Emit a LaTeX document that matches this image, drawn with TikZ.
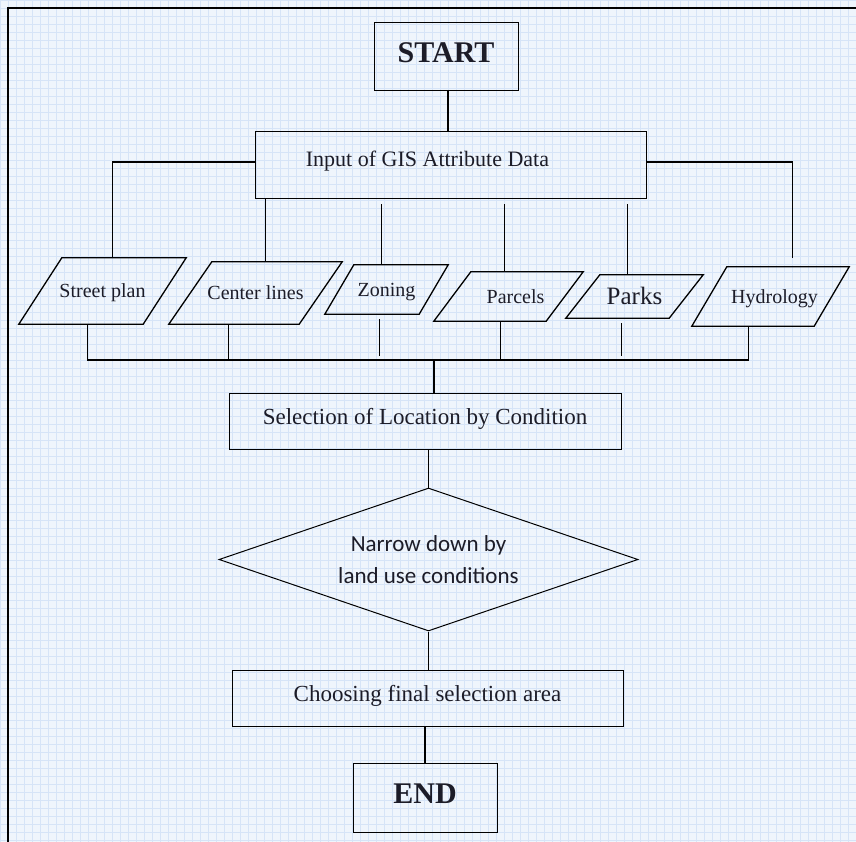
\documentclass[tikz,border=0pt]{standalone}
\usepackage{fontspec}
\setmainfont{Liberation Serif}
\newfontfamily\calibrifont{Carlito}
\usepackage{xcolor}
\usetikzlibrary{shapes.geometric,calc}
\definecolor{paper}{RGB}{239,245,252}
\definecolor{gridblue}{RGB}{214,228,247}
\definecolor{ink}{RGB}{28,28,40}
\tikzset{
    procbox/.style={rectangle,draw,line width=1pt,inner sep=0pt,text=ink,align=center,
        text height=15pt,text depth=8pt,font=\fontsize{23}{27}\selectfont},
    termbox/.style={procbox,text height=20pt,text depth=9pt,
        font=\bfseries\fontsize{30}{34}\selectfont},
    datain/.style={rectangle,inner sep=0pt,text=ink,text height=13pt,text depth=0pt,
        font=\fontsize{20}{24}\selectfont},
    pgram/.style={line width=1.3pt},
    decide/.style={diamond,draw,line width=1pt,inner sep=0pt,aspect=2.9,text=ink,align=center,
        font=\calibrifont\fontsize{23}{32}\selectfont},
    link/.style={line width=1.4pt},
    gridline/.style={draw=gridblue,line width=0.9pt}
}

\begin{document}
\begin{tikzpicture}[x=1pt,y=-1pt]
  % paper background with fine grid
  \useasboundingbox (0,0) rectangle (856,842);
  \fill[paper] (0,0) rectangle (856,842);
  \foreach \i in {0,8,...,856}
    \draw[gridline] (\i,0) -- (\i,842);
  \foreach \j in {0,8,...,840}
    \draw[gridline] (0,\j) -- (856,\j);
  % frame (top and left only)
  \draw[line width=1.4pt] (8,842) -- (8,8) -- (856,8);
  % main column
  \node[termbox,minimum width=144pt,minimum height=68pt] (start) at (446,57) {START};
  \node[procbox,minimum width=391pt,minimum height=67pt,text depth=13pt,
    font=\fontsize{22}{26}\selectfont]
    (inp) at (450.5,165.5) {Input of GIS Attribute Data\kern46pt};
  % attribute layers
  \node[datain,minimum width=167pt,minimum height=66pt] (street) at (102.5,291) {Street plan};
  \node[datain,minimum width=173pt,minimum height=62pt] (cen) at (255.5,293) {Center lines};
  \node[datain,minimum width=123pt,minimum height=49pt] (zon) at (386.5,289.5) {Zoning};
  \node[datain,minimum width=149pt,minimum height=49pt] (par) at (508.5,296.5) {\kern14pt Parcels};
  \node[datain,minimum width=137pt,minimum height=43pt,text height=16pt,
    font=\fontsize{25}{29}\selectfont] (prk) at (634.5,296.5) {Parks};
  \node[datain,minimum width=157pt,minimum height=59pt] (hyd) at (770.5,296.5) {\kern8pt Hydrology};
  \foreach \n/\s in {street/43,cen/43,zon/29,par/37,prk/34,hyd/35}
    \draw[pgram] (\n.south west) -- ([xshift=-\s pt]\n.south east) -- (\n.north east)
      -- ([xshift=\s pt]\n.north west) -- cycle;
  \coordinate (bus) at (434,360);
  % selection steps
  \node[procbox,minimum width=392pt,minimum height=56pt] (sel) at (425,421)
    {Selection of Location by Condition};
  \node[decide,minimum width=419pt,minimum height=143pt] (dia) at (428.5,559.5)
    {Narrow down by\\land use conditions};
  \node[procbox,minimum width=391pt,minimum height=56pt] (cho) at (427.5,698)
    {Choosing final selection area};
  \node[termbox,minimum width=144pt,minimum height=69pt] (end) at (425,797.5) {END};
  % connectors: input to layers
  \draw[link] ([xshift=2pt]start.south) -- ([xshift=2pt]start.south |- inp.north);
  \draw[link] ([yshift=3.5pt]inp.west) -| ([xshift=10pt]street.north);
  \draw[link] ([yshift=3.5pt]inp.east) -| ([xshift=22pt,yshift=9pt]hyd.north);
  \draw[link] ([xshift=10pt]cen.north |- inp.south) -- ([xshift=10pt]cen.north);
  \foreach \n/\s in {zon/-5,par/-4,prk/-7}
    \draw[link] ([xshift=\s pt,yshift=-5pt]\n.north |- inp.south) -- ([xshift=\s pt]\n.north);
  % connectors: layers to bus
  \draw[link] ([xshift=-15pt]street.south) |- ([xshift=-22pt]hyd.south |- bus)
    -- ([xshift=-22pt]hyd.south);
  \foreach \n/\s in {cen/-27,par/-8}
    \draw[link] ([xshift=\s pt]\n.south) -- ([xshift=\s pt]\n.south |- bus);
  \foreach \n/\s in {zon/-7,prk/-13}
    \draw[link] ([xshift=\s pt,yshift=-5pt]\n.south) -- ([xshift=\s pt,yshift=4pt]\n.south |- bus);
  \draw[link] (bus) -- (bus |- sel.north);
  % connectors: lower column
  \draw[link] (dia.north |- sel.south) -- (dia.north);
  \draw[link] (dia.south) -- (dia.south |- cho.north);
  \draw[link] (end.north |- cho.south) -- (end.north);
\end{tikzpicture}
\end{document}
